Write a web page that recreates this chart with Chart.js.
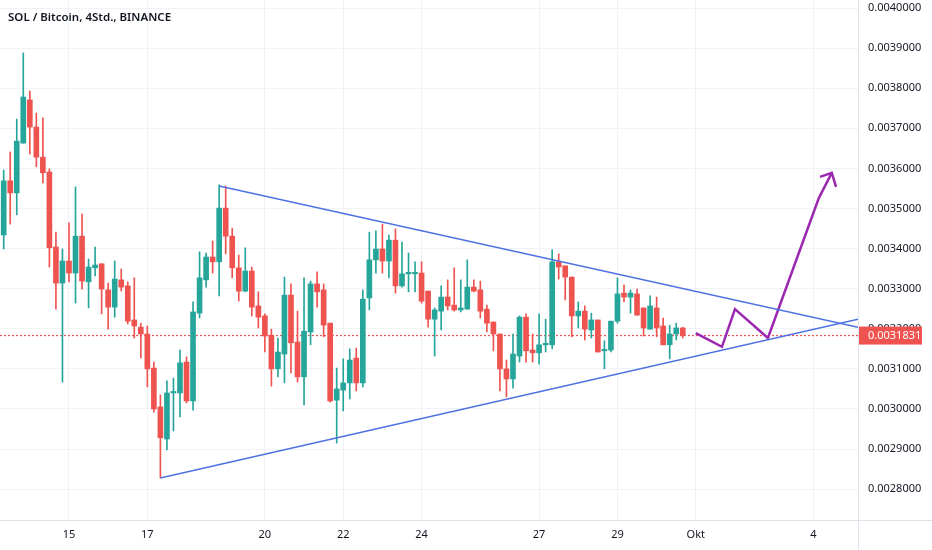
<!DOCTYPE html>
<html>
<head>
<meta charset="utf-8">
<title>SOL / Bitcoin, 4Std., BINANCE</title>
<script src="https://cdn.jsdelivr.net/npm/chart.js@4.4.1/dist/chart.umd.min.js"></script>
<style>
  html, body { margin: 0; padding: 0; background: #ffffff; }
  #chart { display: block; }
</style>
</head>
<body>
<canvas id="chart" width="932" height="550"></canvas>
<script>
// 4h candles, first one is 13 Sep 08:00 (x axis is in days of September)
const firstCandleDay = 13 + 8 / 24;
const candleStep = 4 / 24;

const opens = [
  0.003434, 0.003569, 0.003539, 0.003663, 0.003771, 0.003703, 0.003628, 0.003591, 0.003404, 0.003314,
  0.003369, 0.003339, 0.003431, 0.003317, 0.003352, 0.003362, 0.003297, 0.003254, 0.003322, 0.003307,
  0.003222, 0.003204, 0.003187, 0.003102, 0.003005, 0.002925, 0.003040, 0.003040, 0.003117, 0.003020,
  0.003239, 0.003322, 0.003379, 0.003367, 0.003501, 0.003431, 0.003352, 0.003294, 0.003344, 0.003257,
  0.003232, 0.003184, 0.003100, 0.003137, 0.003284, 0.003167, 0.003080, 0.003192, 0.003312, 0.003297,
  0.003214, 0.003022, 0.003047, 0.003065, 0.003127, 0.003065, 0.003277, 0.003372, 0.003399, 0.003369,
  0.003421, 0.003307, 0.003337, 0.003337, 0.003339, 0.003294, 0.003224, 0.003244, 0.003279, 0.003259,
  0.003247, 0.003249, 0.003304, 0.003297, 0.003249, 0.003217, 0.003187, 0.003100, 0.003075, 0.003132,
  0.003229, 0.003147, 0.003140, 0.003160, 0.003160, 0.003367, 0.003357, 0.003329, 0.003232, 0.003244,
  0.003197, 0.003222, 0.003145, 0.003147, 0.003219, 0.003289, 0.003279, 0.003287, 0.003252, 0.003199,
  0.003252, 0.003207, 0.003160, 0.003187, 0.003202
];
const highs = [
  0.003596, 0.003641, 0.003723, 0.003888, 0.003793, 0.003738, 0.003726, 0.003599, 0.003441, 0.003399,
  0.003464, 0.003554, 0.003486, 0.003374, 0.003404, 0.003362, 0.003314, 0.003369, 0.003349, 0.003317,
  0.003327, 0.003214, 0.003207, 0.003117, 0.003035, 0.003070, 0.003077, 0.003147, 0.003130, 0.003267,
  0.003392, 0.003389, 0.003419, 0.003559, 0.003556, 0.003451, 0.003384, 0.003402, 0.003354, 0.003292,
  0.003237, 0.003199, 0.003177, 0.003329, 0.003312, 0.003244, 0.003327, 0.003319, 0.003342, 0.003312,
  0.003214, 0.003102, 0.003125, 0.003150, 0.003152, 0.003297, 0.003441, 0.003444, 0.003461, 0.003434,
  0.003449, 0.003416, 0.003389, 0.003367, 0.003367, 0.003294, 0.003252, 0.003307, 0.003322, 0.003352,
  0.003322, 0.003372, 0.003322, 0.003319, 0.003259, 0.003217, 0.003187, 0.003122, 0.003187, 0.003232,
  0.003237, 0.003187, 0.003237, 0.003224, 0.003397, 0.003387, 0.003357, 0.003329, 0.003267, 0.003257,
  0.003239, 0.003222, 0.003170, 0.003219, 0.003327, 0.003309, 0.003297, 0.003299, 0.003252, 0.003282,
  0.003279, 0.003227, 0.003209, 0.003214, 0.003204
];
const lows = [
  0.003399, 0.003461, 0.003484, 0.003663, 0.003636, 0.003604, 0.003564, 0.003354, 0.003249, 0.003067,
  0.003317, 0.003264, 0.003299, 0.003252, 0.003332, 0.003237, 0.003199, 0.003229, 0.003294, 0.003212,
  0.003177, 0.003127, 0.003055, 0.002992, 0.002828, 0.002898, 0.002945, 0.002980, 0.003015, 0.002997,
  0.003227, 0.003304, 0.003339, 0.003282, 0.003387, 0.003327, 0.003269, 0.003292, 0.003232, 0.003202,
  0.003142, 0.003057, 0.003080, 0.003065, 0.003090, 0.003067, 0.003010, 0.003160, 0.003254, 0.003180,
  0.003017, 0.002915, 0.002995, 0.003025, 0.003045, 0.003055, 0.003247, 0.003339, 0.003339, 0.003327,
  0.003289, 0.003304, 0.003292, 0.003292, 0.003264, 0.003204, 0.003132, 0.003197, 0.003247, 0.003244,
  0.003242, 0.003249, 0.003292, 0.003227, 0.003192, 0.003145, 0.003045, 0.003030, 0.003052, 0.003117,
  0.003117, 0.003117, 0.003112, 0.003142, 0.003150, 0.003324, 0.003272, 0.003180, 0.003202, 0.003172,
  0.003177, 0.003142, 0.003100, 0.003142, 0.003214, 0.003267, 0.003239, 0.003234, 0.003182, 0.003199,
  0.003180, 0.003160, 0.003125, 0.003172, 0.003177
];
const closes = [
  0.003569, 0.003539, 0.003668, 0.003778, 0.003703, 0.003628, 0.003589, 0.003402, 0.003314, 0.003369,
  0.003339, 0.003431, 0.003319, 0.003354, 0.003359, 0.003299, 0.003254, 0.003324, 0.003304, 0.003219,
  0.003207, 0.003187, 0.003100, 0.003000, 0.002928, 0.003040, 0.003042, 0.003115, 0.003020, 0.003242,
  0.003327, 0.003379, 0.003367, 0.003501, 0.003431, 0.003352, 0.003294, 0.003344, 0.003254, 0.003229,
  0.003182, 0.003100, 0.003142, 0.003284, 0.003165, 0.003080, 0.003194, 0.003312, 0.003292, 0.003209,
  0.003020, 0.003050, 0.003065, 0.003122, 0.003065, 0.003274, 0.003372, 0.003399, 0.003369, 0.003421,
  0.003307, 0.003337, 0.003339, 0.003339, 0.003269, 0.003224, 0.003247, 0.003279, 0.003257, 0.003247,
  0.003252, 0.003304, 0.003294, 0.003244, 0.003214, 0.003187, 0.003100, 0.003075, 0.003137, 0.003229,
  0.003145, 0.003140, 0.003160, 0.003162, 0.003367, 0.003354, 0.003329, 0.003232, 0.003244, 0.003199,
  0.003222, 0.003142, 0.003147, 0.003219, 0.003287, 0.003279, 0.003289, 0.003234, 0.003202, 0.003257,
  0.003202, 0.003160, 0.003187, 0.003202, 0.0031831
];
const lastPrice = 0.0031831;

// drawings (day, price)
const upperTrend = [{ x: 18.833, y: 0.003556 }, { x: 35.14, y: 0.003204 }];
const lowerTrend = [{ x: 17.333, y: 0.002828 }, { x: 35.14, y: 0.003224 }];
const projection = [
  { x: 31.0, y: 0.003189 }, { x: 31.667, y: 0.003155 }, { x: 32.0, y: 0.003249 },
  { x: 32.84, y: 0.003177 }, { x: 34.14, y: 0.003526 }, { x: 34.47, y: 0.003589 }
];
const arrowHead = [{ x: 34.17, y: 0.003579 }, { x: 34.47, y: 0.003589 }, { x: 34.58, y: 0.003554 }];

const dayTicks = [15, 17, 20, 22, 24, 27, 29, 31, 34];
const dayLabels = ["15", "17", "20", "22", "24", "27", "29", "Okt", "4"];
const priceTicks = [0.0028, 0.0029, 0.0030, 0.0031, 0.0032, 0.0033, 0.0034,
  0.0035, 0.0036, 0.0037, 0.0038, 0.0039, 0.0040];

const upColor = "#26a69a";
const downColor = "#ef5350";
const textColor = "#131722";
const lineColor = "#e0e3eb";

const candleX = opens.map((o, i) => firstCandleDay + i * candleStep);
const candleColors = opens.map((o, i) => (closes[i] >= o ? upColor : downColor));

Chart.defaults.font.family = "'Noto Sans', sans-serif";
Chart.defaults.font.size = 11;
Chart.defaults.color = textColor;

const overlay = {
  id: "overlay",
  afterDraw(chart) {
    const ctx = chart.ctx;
    const area = chart.chartArea;
    ctx.save();
    // frame lines spanning the whole page
    ctx.strokeStyle = lineColor;
    ctx.lineWidth = 1;
    ctx.beginPath();
    ctx.moveTo(0, Math.round(area.bottom) + 0.5);
    ctx.lineTo(chart.width, Math.round(area.bottom) + 0.5);
    ctx.moveTo(Math.round(area.right) + 0.5, 0);
    ctx.lineTo(Math.round(area.right) + 0.5, chart.height);
    ctx.stroke();

    // symbol title
    ctx.fillStyle = textColor;
    ctx.font = "600 11.5px 'Noto Sans', sans-serif";
    ctx.textBaseline = "middle";
    ctx.textAlign = "left";
    ctx.fillText("SOL / Bitcoin, 4Std., BINANCE", 8, 18);

    // last price label
    const y = chart.scales.y.getPixelForValue(lastPrice);
    ctx.fillStyle = downColor;
    ctx.fillRect(area.right + 1, y - 9, 63, 18);
    ctx.fillStyle = "#ffffff";
    ctx.font = "11px 'Noto Sans', sans-serif";
    ctx.fillText(lastPrice.toFixed(7), area.right + 10, y + 0.5);
    ctx.restore();
  }
};

new Chart(document.getElementById("chart"), {
  type: "bar",
  data: {
    datasets: [
      {
        type: "line",
        data: upperTrend,
        borderColor: "#4f72e3",
        borderWidth: 1.5,
        pointRadius: 0,
        order: 0
      },
      {
        type: "line",
        data: lowerTrend,
        borderColor: "#4f72e3",
        borderWidth: 1.5,
        pointRadius: 0,
        order: 0
      },
      {
        type: "line",
        data: projection,
        borderColor: "#9c27b0",
        borderWidth: 2.5,
        pointRadius: 0,
        borderJoinStyle: "miter",
        order: 0
      },
      {
        type: "line",
        data: arrowHead,
        borderColor: "#9c27b0",
        borderWidth: 2.5,
        pointRadius: 0,
        order: 0
      },
      {
        type: "line",
        data: [{ x: 13.239, y: lastPrice }, { x: 35.14, y: lastPrice }],
        borderColor: downColor,
        borderWidth: 1.2,
        borderDash: [2, 2],
        pointRadius: 0,
        order: 3
      },
      {
        label: "bodies",
        data: candleX.map((x, i) => ({ x: x, y: [opens[i], closes[i]] })),
        backgroundColor: candleColors,
        barThickness: 5,
        minBarLength: 1.5,
        borderWidth: 0,
        grouped: false,
        order: 1
      },
      {
        label: "wicks",
        data: candleX.map((x, i) => ({ x: x, y: [lows[i], highs[i]] })),
        backgroundColor: candleColors,
        barThickness: 1,
        borderWidth: 0,
        grouped: false,
        order: 2
      }
    ]
  },
  options: {
    responsive: false,
    animation: false,
    layout: { padding: 0 },
    plugins: {
      legend: { display: false },
      tooltip: { enabled: false },
      title: { display: false }
    },
    scales: {
      x: {
        type: "linear",
        min: 13.239,
        max: 35.14,
        offset: false,
        grid: { color: "#f0f2f6", offset: false, drawTicks: false },
        border: { display: false },
        afterBuildTicks: (scale) => {
          scale.ticks = dayTicks.map((v) => ({ value: v }));
        },
        afterFit: (scale) => {
          scale.height = 30;
          scale.paddingLeft = 0;
          scale.paddingRight = 0;
        },
        ticks: {
          padding: 8,
          maxRotation: 0,
          autoSkip: false,
          color: textColor,
          callback: (v) => dayLabels[dayTicks.indexOf(v)]
        }
      },
      y: {
        position: "right",
        min: 0.0027231,
        max: 0.00402,
        grid: { color: "#f0f2f6", drawTicks: false },
        border: { display: false },
        afterBuildTicks: (scale) => {
          scale.ticks = priceTicks.map((v) => ({ value: v }));
        },
        afterFit: (scale) => {
          scale.width = 74;
          scale.paddingTop = 0;
          scale.paddingBottom = 0;
        },
        ticks: {
          padding: 10,
          color: textColor,
          callback: (v) => v.toFixed(7)
        }
      }
    }
  },
  plugins: [overlay]
});
</script>
</body>
</html>
